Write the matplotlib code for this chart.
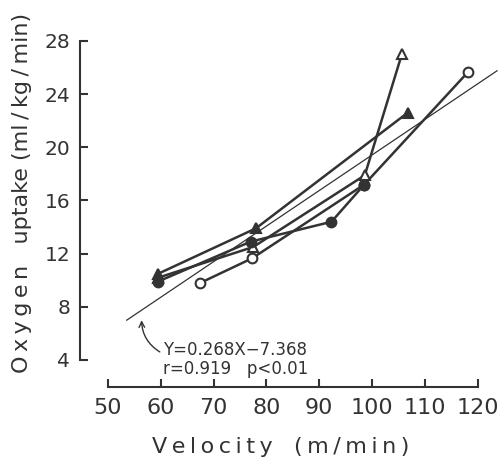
import numpy as np
import matplotlib
matplotlib.use("Agg")
import matplotlib.pyplot as plt

# ---------------------------------------------------------------
# Datos: velocidad (m/min) vs consumo de O2
# ---------------------------------------------------------------
tri_lleno_x = [59.6, 78.0, 106.7]
tri_lleno_y = [10.5, 13.9, 22.6]

tri_vacio_x = [59.6, 77.5, 98.6, 105.6]
tri_vacio_y = [10.2, 12.5, 17.9, 27.0]

circ_lleno_x = [59.5, 77.0, 92.3, 98.5]
circ_lleno_y = [9.9, 12.9, 14.4, 17.2]

circ_vacio_x = [67.5, 77.3, 98.5, 118.2]
circ_vacio_y = [9.8, 11.65, 17.2, 25.7]

pendiente = 0.268
intercepto = -7.368
recta_x = [53.6, 123.6]

x_ticks = [50, 60, 70, 80, 90, 100, 110, 120]
y_ticks = [4, 8, 12, 16, 20, 24, 28]

COLOR = '#333333'

fig = plt.figure(figsize=(5, 4.62), dpi=100)
ax = fig.add_axes([0.2154, 0.2208, 0.7406, 0.6905])
ax.set_xlim(50, 120)
ax.set_ylim(4, 28)

# recta de regresión
rx = np.array(recta_x)
ax.plot(rx, pendiente * rx + intercepto, '-', color=COLOR, lw=0.9,
        clip_on=False, zorder=2)

# series
estilo = dict(color=COLOR, lw=1.8, ms=7, mew=1.5, clip_on=False, zorder=3)
ax.plot(circ_vacio_x, circ_vacio_y, marker='o', mfc='white', mec=COLOR, **estilo)
ax.plot(tri_vacio_x, tri_vacio_y, marker='^', mfc='white', mec=COLOR, **estilo)
ax.plot(circ_lleno_x, circ_lleno_y, marker='o', mfc=COLOR, mec=COLOR, **estilo)
ax.plot(tri_lleno_x, tri_lleno_y, marker='^', mfc=COLOR, mec=COLOR, **estilo)

# anotación de la ecuación
ax.annotate('', xy=(56.4, 7.2), xytext=(60.3, 4.5),
            arrowprops=dict(arrowstyle='->', color=COLOR, lw=1.0,
                            connectionstyle='arc3,rad=-0.3'),
            annotation_clip=False)
ax.text(60.4, 5.4, 'Y=0.268X\u22127.368\nr=0.919   p<0.01',
        fontsize=12, color=COLOR, va='top', ha='left', linespacing=1.05)

# ejes estilo "desplazado"
for s in ['top', 'right']:
    ax.spines[s].set_visible(False)
ax.spines['left'].set_position(('outward', 19.9))
ax.spines['bottom'].set_position(('outward', 19.2))
ax.spines['left'].set_bounds(4, 28)
ax.spines['bottom'].set_bounds(50, 120)
for s in ['left', 'bottom']:
    ax.spines[s].set_color(COLOR)
    ax.spines[s].set_linewidth(1.5)

ax.set_xticks(x_ticks)
ax.set_yticks(y_ticks)
ax.tick_params(axis='both', direction='in', length=6, width=1.5, color=COLOR,
               labelcolor=COLOR)
ax.tick_params(axis='x', labelsize=16, pad=8)
ax.tick_params(axis='y', labelsize=14.5, pad=7)

fig.text(281 / 500, 1 - 447 / 462,
         'V\u2009e\u2009l\u2009o\u2009c\u2009i\u2009t\u2009y   (\u2009m\u2009/\u2009m\u2009i\u2009n\u2009)',
         fontsize=16, color=COLOR, ha='center', va='center')
fig.text(22 / 500, 1 - 193 / 462,
         'O\u2009x\u2009y\u2009g\u2009e\u2009n   uptake (ml\u2009/\u2009kg\u2009/\u2009min)',
         fontsize=16, color=COLOR, ha='center', va='center', rotation=90)

plt.savefig('out.png', dpi=100)
